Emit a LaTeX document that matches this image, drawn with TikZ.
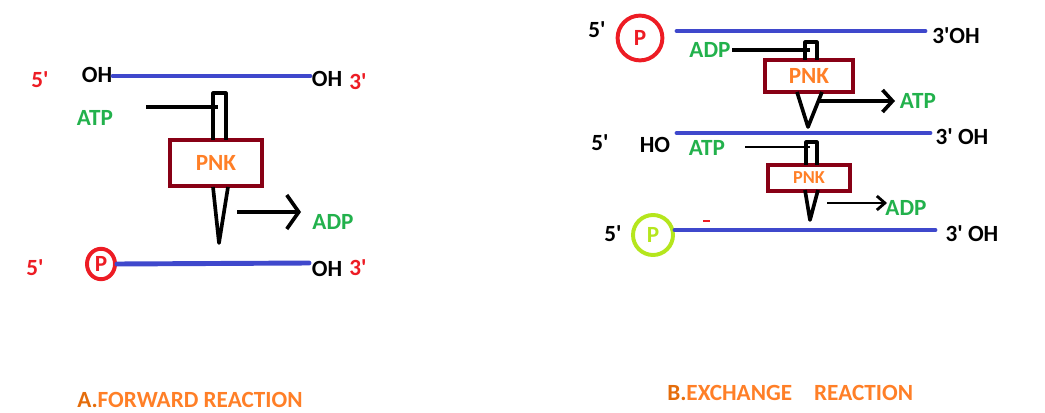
\documentclass[tikz,border=0pt]{standalone}
\usepackage{fontspec}
\setmainfont{Carlito}
\usetikzlibrary{arrows.meta,positioning,shapes.geometric}
\definecolor{strandblue}{HTML}{3F48CC}
\definecolor{pnkred}{HTML}{880015}
\definecolor{pnkorange}{HTML}{FF7F27}
\definecolor{primered}{HTML}{ED1C24}
\definecolor{labelgreen}{HTML}{22B14C}
\definecolor{limegreen}{HTML}{B5E61D}
\definecolor{titleorange}{HTML}{E46C0A}
\newcommand{\q}{\textquotesingle}

\begin{document}
\begin{tikzpicture}[x=0.025cm,y=-0.025cm,
    txt/.style={font=\bfseries\fontsize{16.5}{18}\selectfont, inner sep=0pt},
    prime/.style={txt, primered},
    sub/.style={txt, labelgreen},
    strand/.style={strandblue, line width=3.5pt, line cap=round},
    link/.style={black, line width=2.6pt, line join=round},
    pnkbox/.style={draw=pnkred, line width=2.8pt, txt, text=pnkorange},
    phos/.style={circle, line width=2.8pt, txt, inner sep=0pt}]
      \useasboundingbox (0,0) rectangle (1045,413);
      % A. forward reaction: top strand
      \node[prime] (a5top) at (40,80) {5\q};
      \node[txt] (aohl) at (97,75) {OH};
      \coordinate (as1) at (113,76);
      \coordinate (ae1) at (310,76);
      \draw[strand] (as1) -- (ae1);
      \node[txt] (aohr) at (327,79) {OH};
      \node[prime] (a3top) at (358,82) {3\q};
      % ATP goes into the enzyme
      \node[sub] (aatp) at (95,118) {ATP};
      \node[pnkbox, minimum width=2.3cm, minimum height=1.15cm] (apnk) at (216,163) {PNK};
      \coordinate (ain) at (146,107);
      \coordinate (ajoin) at (218,107);
      \draw[link] (ain) -- (ajoin);
      \draw[link, line width=2.2pt] (213,140) |- (226,93) -- (226,140);
      \draw[link] (213,187) -- (219,243) -- (228,187);
      % ADP comes out
      \coordinate (aout) at (237,212);
      \coordinate (aoutend) at (301,212);
      \draw[link, -{Straight Barb[length=0.3cm, width=0.85cm]}] (aout) -- (aoutend);
      \node[sub] (aadp) at (333,222) {ADP};
      % bottom strand, phosphorylated
      \node[prime] (a5bot) at (35,268) {5\q};
      \node[phos, ellipse, draw=primered, text=primered, minimum width=0.7cm, minimum height=0.76cm] (ap) at (101,264) {P};
      \coordinate (ae2) at (309,263);
      \draw[strand] (ap.east) -- (ae2);
      \node[txt] (aohb) at (327,269) {OH};
      \node[prime] (a3bot) at (358,268) {3\q};
      \node[txt, anchor=base west, pnkorange] (atitle) at (77,407) {{\color{titleorange}A.}FORWARD REACTION};

      % B. exchange reaction: phosphorylated strand gives its phosphate
      \node[txt] (b5a) at (597,30) {5\q};
      \node[phos, draw=primered, text=primered, minimum size=1.12cm] (bp1) at (640,38) {P};
      \coordinate (bs1) at (677,31);
      \coordinate (be1) at (925,31);
      \draw[strand] (bs1) -- (be1);
      \node[txt] (b3a) at (956,36) {3\q OH};
      \node[sub] (badp) at (710,50) {ADP};
      \node[pnkbox, minimum width=2.2cm, minimum height=0.8cm] (bpnk1) at (809,76) {PNK};
      \coordinate (bin1) at (732,50);
      \coordinate (bjoin1) at (810,50);
      \draw[link] (bin1) -- (bjoin1);
      \draw[link, line width=2.2pt] (805,60) |- (817,42) -- (817,60);
      \draw[link] (797,92) -- (808,127) -- (822,92);
      \coordinate (bout1) at (818,101);
      \coordinate (boutend1) at (895,101);
      \draw[link, -{Straight Barb[length=0.25cm, width=0.55cm]}] (bout1) -- (boutend1);
      \node[sub] (batp1) at (918,101) {ATP};
      % middle strand with free 5' HO
      \coordinate (bs2) at (677,133);
      \coordinate (be2) at (930,133);
      \draw[strand] (bs2) -- (be2);
      \node[txt] (b3b) at (962,137) {3\q{} OH};
      \node[txt] (b5b) at (600,143) {5\q};
      \node[txt] (bho) at (655,145) {HO};
      \node[sub] (batp2) at (707,148) {ATP};
      \node[pnkbox, minimum width=2.05cm, minimum height=0.63cm, font=\bfseries\fontsize{13}{14}\selectfont] (bpnk2) at (809,178) {PNK};
      \coordinate (bin2) at (745,147);
      \coordinate (bjoin2) at (810,147);
      \draw[link, line width=2pt] (bin2) -- (bjoin2);
      \draw[link, line width=2.2pt] (806,165) |- (817,142) -- (817,165);
      \draw[link] (805,190) -- (810,220) -- (818,190);
      \coordinate (bout2) at (827,203);
      \coordinate (boutend2) at (887,203);
      \draw[link, line width=2pt, -{Straight Barb[length=0.2cm, width=0.35cm]}] (bout2) -- (boutend2);
      \node[sub] (badp2) at (906,208) {ADP};
      % bottom strand gets the new phosphate
      \node[txt] (b5c) at (613,234) {5\q};
      \node[phos, draw=limegreen, text=limegreen, minimum size=1cm] (bp2) at (653,235) {P};
      \coordinate (be3) at (935,230);
      \draw[strand] (bp2.east |- be3) -- (be3);
      \draw[primered, line width=1pt] (703,221) -- (710,221);
      \node[txt] (b3c) at (972,234) {3\q{} OH};
      \node[txt, anchor=base west, pnkorange] (btitle) at (667,400) {{\color{titleorange}B.}EXCHANGE\hspace{0.55cm}REACTION};
\end{tikzpicture}
\end{document}
